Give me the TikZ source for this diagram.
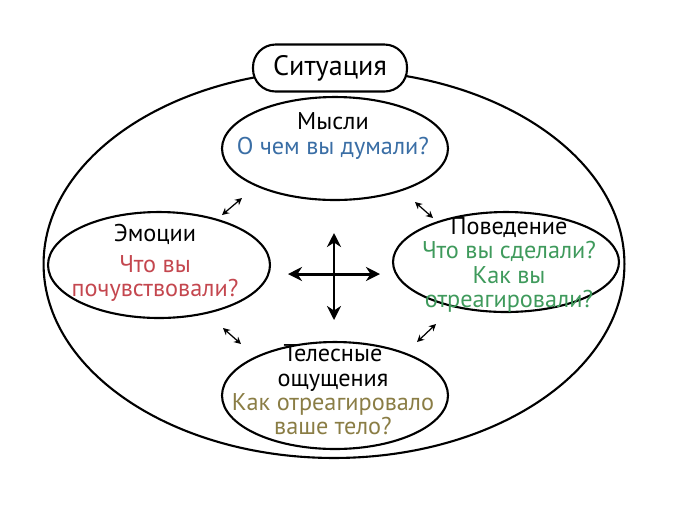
\documentclass[tikz,border=0pt]{standalone}
\usepackage{fontspec}
\setmainfont{PT Sans}
\usetikzlibrary{arrows.meta,positioning,shapes.geometric}
\definecolor{ThinkBlue}{HTML}{3A6EA5}
\definecolor{FeelRed}{HTML}{C4474F}
\definecolor{ActGreen}{HTML}{3F9A5C}
\definecolor{BodyOlive}{HTML}{8A7D45}

\tikzset{
  sphere/.style={draw, ellipse, line width=1.2pt, inner sep=0pt},
  lbl/.style={align=center, inner sep=0pt, font=\fontsize{13.8}{13.8}\selectfont},
  link/.style={{Stealth[length=4pt,width=4pt]}-{Stealth[length=4pt,width=4pt]}, line width=0.7pt},
  cross/.style={-{Stealth[length=8pt,width=8pt]}, line width=1.7pt}
}

\begin{document}
\begin{tikzpicture}[x=0.02cm,y=-0.02cm]
  \useasboundingbox (0,0) rectangle (682,512);
  \node[sphere, minimum width=11.62cm, minimum height=7.76cm] (frame) at (334,264) {};
  \node[draw, line width=1.2pt, fill=white, rounded corners=0.45cm, minimum width=3.08cm,
    minimum height=0.94cm, font=\fontsize{16}{16}\selectfont] (situation) at (330,68) {Ситуация};
  \node[sphere, minimum width=4.52cm, minimum height=2.06cm] (thoughts) at (335,148.5) {};
  \node[sphere, minimum width=4.44cm, minimum height=2.12cm] (emotions) at (159,265) {};
  \node[sphere, minimum width=4.52cm, minimum height=2.0cm] (behaviour) at (506,262) {};
  \node[sphere, minimum width=4.52cm, minimum height=2.14cm] (body) at (335,395.5) {};
  \node[lbl] (thoughtsLbl) at (333,136) {Мысли\\\textcolor{ThinkBlue}{О чем вы думали?}};
  \node[lbl] (emotionsLbl) at (155,263) {Эмоции\\[4pt]\textcolor{FeelRed}{Что вы}\\
    \textcolor{FeelRed}{почувствовали?}};
  \node[lbl] (behaviourLbl) at (509,265) {Поведение\\\textcolor{ActGreen}{Что вы сделали?}\\
    \textcolor{ActGreen}{Как вы}\\\textcolor{ActGreen}{отреагировали?}};
  \node[lbl] (bodyLbl) at (333,390) {Телесные\\ощущения\\\textcolor{BodyOlive}{Как отреагировало}\\
    \textcolor{BodyOlive}{ваше тело?}};
  \coordinate (hub) at (334,274);
  \coordinate (hubW) at (288,274);
  \coordinate (hubE) at (380,274);
  \coordinate (hubN) at (334,233);
  \coordinate (hubS) at (334,320);
  \draw[cross] (hub) -- (hubW);
  \draw[cross] (hub) -- (hubE);
  \draw[cross] (hub) -- (hubN);
  \draw[cross] (hub) -- (hubS);
  \coordinate (nwA) at (222,215);
  \coordinate (nwB) at (242,198);
  \coordinate (neA) at (415,202);
  \coordinate (neB) at (433,218);
  \coordinate (swA) at (223,328);
  \coordinate (swB) at (241,344);
  \coordinate (seA) at (417,342);
  \coordinate (seB) at (436,324);
  \draw[link] (nwA) -- (nwB);
  \draw[link] (neA) -- (neB);
  \draw[link] (swA) -- (swB);
  \draw[link] (seA) -- (seB);
\end{tikzpicture}
\end{document}
